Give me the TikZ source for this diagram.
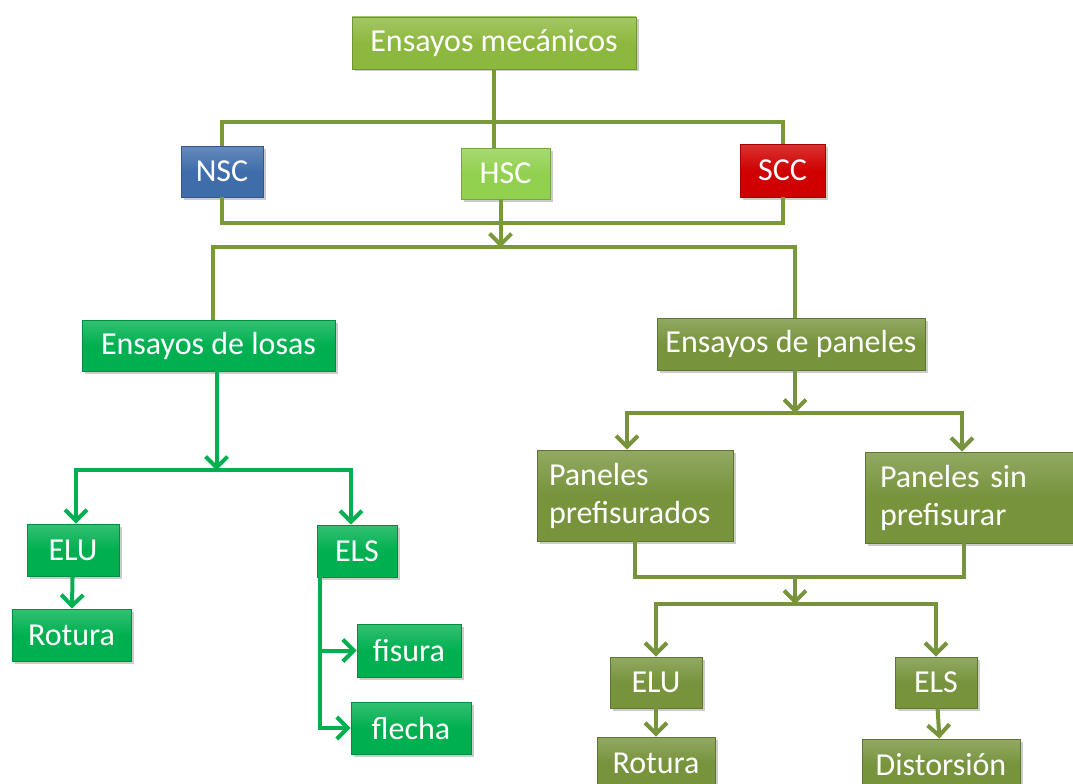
\documentclass[tikz,border=0pt]{standalone}
\usepackage{fontspec}
\setmainfont{Carlito}
\usetikzlibrary{arrows.meta,shadows}
\definecolor{mecgreen}{HTML}{8DB83F}
\definecolor{nscblue}{HTML}{3F6DAA}
\definecolor{hscgreen}{HTML}{92D050}
\definecolor{sccred}{HTML}{D00000}
\definecolor{slab}{HTML}{00B050}
\definecolor{panel}{HTML}{77933C}
\definecolor{trunk}{HTML}{7A9A3A}

\begin{document}
\begin{tikzpicture}[x=1pt, y=-1pt, >={Straight Barb[length=11pt,width=22pt,line width=4pt]},
  box/.style={draw=#1!80!black, line width=0.8pt, top color=#1!80!white, bottom color=#1,
    middle color=#1, text=white,
    inner sep=0pt, font=\fontsize{32}{38}\selectfont,
    drop shadow={shadow xshift=2.5pt, shadow yshift=-2.5pt, opacity=.4}},
  link/.style={draw=#1, line width=4pt}]
\useasboundingbox (0,0) rectangle (1073,784);

%% Ensayos mecanicos
\draw (494,43) node[box=mecgreen, minimum width=284pt, minimum height=52pt] (mec) {Ensayos mecánicos};
%% NSC, HSC, SCC
\draw (mec) ++(-272,128.5) node[box=nscblue, minimum width=82pt, minimum height=51pt] (nsc) {NSC};
\draw (mec) ++(11.5,130.5) node[box=hscgreen, minimum width=89pt, minimum height=51pt] (hsc) {HSC};
\draw (mec) ++(288.5,127.5) node[box=sccred, minimum width=85pt, minimum height=53pt] (scc) {SCC};
\path (mec.south) ++(0,53) coordinate (b1);
\draw[link=trunk] (nsc.north) |- (b1) -| (scc.north);
\draw[link=trunk] (mec.south) -- (mec.south |- hsc.north);
\path (hsc.south) ++(0,23.5) coordinate (b2);
\draw[link=trunk] (nsc.south) |- (b2) -| (scc.south);
\path (hsc.south) ++(0,48) coordinate (b3);
\draw[link=trunk, ->] ([xshift=-5pt]hsc.south) -- ([xshift=-5pt]b3);

%%%%%%%%%%%%%%%%%%%%%% Losas

\draw (nsc) ++(-13.5,174) node[box=slab, minimum width=253pt, minimum height=51pt] (losas) {Ensayos de losas};
\draw (losas) ++(-135.5,204.5) node[box=slab, minimum width=92pt, minimum height=52pt] (eluL) {ELU};
\draw (losas) ++(148.5,205.5) node[box=slab, minimum width=80pt, minimum height=52pt] (elsL) {ELS};
\path (losas.south) ++(8,99) coordinate (c1);
\draw[link=slab, ->] ([xshift=8pt]losas.south) -- (c1);
\draw[link=slab, ->] (c1) -| ([xshift=3pt]eluL.north);
\draw[link=slab, ->] (c1) -| ([xshift=-6pt]elsL.north);
%% ELU
\draw (eluL) ++(-1.5,85) node[box=slab, minimum width=119pt, minimum height=52pt] (rotL) {Rotura};
\draw[link=slab, ->] (eluL) -- (rotL);
%% ELS
\draw (elsL) ++(52,99.5) node[box=slab, minimum width=104pt, minimum height=53pt] (fisura) {fisura};
\draw (fisura) ++(2,77.5) node[box=slab, minimum width=120pt, minimum height=52pt] (flecha) {flecha};
\path (elsL.south west) ++(3,0) coordinate (e1);
\draw[link=slab, ->] (e1) |- (fisura);
\draw[link=slab, ->] (e1) |- (flecha);

%%%%%%%%%%%%%%%%%%%%%% Paneles

\draw (scc) ++(8.5,173.5) node[box=panel, minimum width=268pt, minimum height=52pt] (paneles) {Ensayos de paneles};
\draw[link=trunk] ([xshift=4pt]losas.north) |- (b3) -| ([xshift=4pt]paneles.north);
\draw (paneles) ++(-156,151.5) node[box=panel, minimum width=196pt, minimum height=91pt,
  text width=172pt, align=left] (pref) {Paneles\\prefisurados};
\draw (paneles) ++(184,153.5) node[box=panel, minimum width=220pt, minimum height=91pt,
  text width=190pt, align=left] (sinp) {Paneles sin\\prefisurar};
\path (paneles.south) ++(4,43) coordinate (c2);
\draw[link=panel, ->] ([xshift=4pt]paneles.south) -- (c2);
\draw[link=panel, ->] (c2) -| ([xshift=-8pt]pref.north);
\draw[link=panel, ->] (c2) -| ([xshift=-13pt]sinp.north);
\path (pref.south) ++(0,36) coordinate (c3a);
\coordinate (c3) at (c3a -| c2);
\draw[link=panel] (pref.south) |- (c3) -| ([xshift=-11pt]sinp.south);
\path (c3) ++(0,27) coordinate (c4);
\draw[link=panel, ->] (c3) -- (c4);
%% ELU / ELS
\draw (pref) ++(21,187) node[box=panel, minimum width=92pt, minimum height=51pt] (eluR) {ELU};
\draw (sinp) ++(-39,185) node[box=panel, minimum width=82pt, minimum height=51pt] (elsR) {ELS};
\draw[link=panel, ->] (c4) -| (eluR.north);
\draw[link=panel, ->] (c4) -| (elsR.north);
\draw (eluR) ++(0,80.5) node[box=panel, minimum width=118pt, minimum height=52pt] (rotR) {Rotura};
\draw (elsR) ++(5,82.5) node[box=panel, minimum width=158pt, minimum height=52pt] (dist) {Distorsión};
\draw[link=panel, ->] (eluR) -- (rotR);
\draw[link=panel, ->] (elsR) -- (dist);
\end{tikzpicture}
\end{document}
